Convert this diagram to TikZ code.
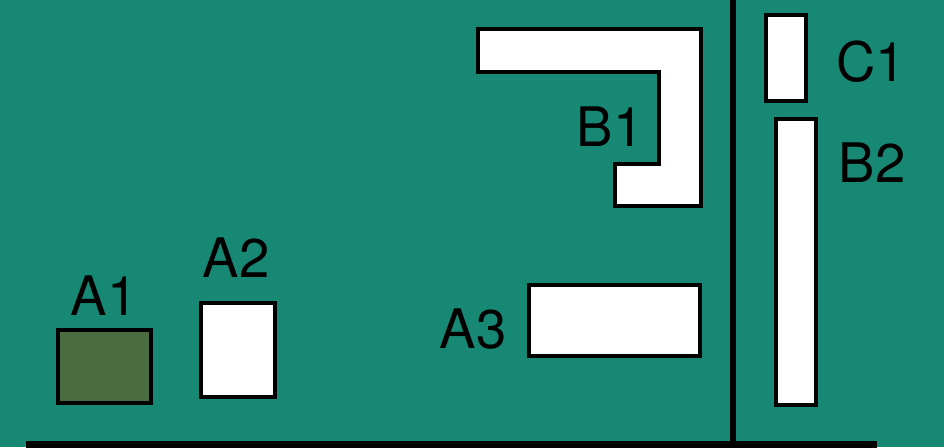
\documentclass[tikz,border=0pt]{standalone}
\usepackage{fontspec}
\setmainfont{TeX Gyre Heros}
\usepackage{xcolor}
\usepackage{tikz}
\usetikzlibrary{positioning}

\definecolor{boardgreen}{HTML}{168874}
\definecolor{padgreen}{HTML}{4B6B41}

\begin{document}
\begin{tikzpicture}[x=0.02cm, y=-0.02cm, line join=miter, every node/.style={font=\fontsize{31}{31}\selectfont, inner sep=0pt}]
\fill[boardgreen] (0,0) rectangle (944,447);
\useasboundingbox (0,0) rectangle (944,447);
% divider and base line
\draw[line width=3.2pt] (733,0) -- (733,445);
\draw[line width=4pt] (26,445) -- (877,445);
% parts
\draw[line width=2.3pt, fill=padgreen] (58,330) rectangle (151,403);
\draw[line width=2.3pt, fill=white] (201,303) rectangle (275,397);
\draw[line width=2.3pt, fill=white] (529,285) rectangle (700,356);
\draw[line width=2.3pt, fill=white] (478,29) -- (701,29) -- (701,206) -- (615,206) -- (615,164) -- (659,164) -- (659,72) -- (478,72) -- cycle;
\draw[line width=2.3pt, fill=white] (766,15) rectangle (806,101);
\draw[line width=2.3pt, fill=white] (776,119) rectangle (816,405);
% labels
\node (a1) at (104,296) {A1};
\node (a2) at (236,258) {A2};
\node (a3) at (473,329) {A3};
\node (b1) at (610,127) {B1};
\node (c1) at (871,62) {C1};
\node (b2) at (872,163) {B2};
\end{tikzpicture}
\end{document}
